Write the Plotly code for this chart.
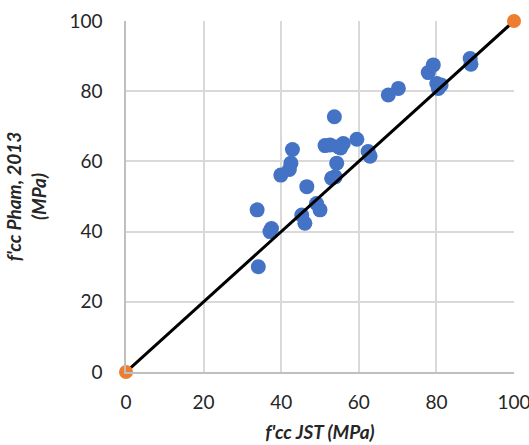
import plotly.graph_objects as go

jst = [88.7, 88.9, 79.2, 77.9, 80.1, 80.5, 81.2, 67.6, 70.2, 53.7, 59.5, 56.0, 51.3, 52.6, 54.7,
       55.3, 62.4, 62.9, 42.9, 42.5, 42.1, 39.9, 54.3, 53.0, 53.9, 46.6, 49.1, 50.0, 33.8, 45.3,
       46.1, 37.5, 37.1, 34.1]
pham = [89.3, 87.7, 87.5, 85.3, 82.2, 80.8, 81.8, 78.9, 80.8, 72.7, 66.3, 65.1, 64.5, 64.7, 64.2,
        63.8, 62.8, 61.5, 63.4, 59.5, 57.7, 56.1, 59.5, 55.2, 55.6, 52.8, 48.0, 46.2, 46.2, 44.7,
        42.4, 40.9, 40.0, 30.0]
ref_x = [0, 100]
ref_y = [0, 100]
ticks = [0, 20, 40, 60, 80, 100]

fig = go.Figure()
fig.add_trace(go.Scatter(x=jst, y=pham, mode="markers",
                         marker=dict(color="#4472C4", size=15), cliponaxis=False))
fig.add_trace(go.Scatter(x=ref_x, y=ref_y, mode="lines",
                         line=dict(color="black", width=3), cliponaxis=False))
fig.add_trace(go.Scatter(x=ref_x, y=ref_y, mode="markers",
                         marker=dict(color="#ED7D31", size=14), cliponaxis=False))

axis_common = dict(range=[0, 100], tickvals=ticks, showgrid=True, gridcolor="#D9D9D9",
                   gridwidth=1.5, zeroline=False, showline=True, linecolor="#BFBFBF",
                   linewidth=1.5, ticks="", automargin=False, ticklabeloverflow="allow",
                   tickfont=dict(size=19, color="#262626", family="Lato"))

fig.update_xaxes(**axis_common, ticklabelstandoff=12,
                 title=dict(text="<b><i>f'cc JST (MPa)</i></b>", standoff=14,
                            font=dict(size=19, color="#262626", family="Lato")))
fig.update_yaxes(**axis_common, ticklabelstandoff=18,
                 title=dict(text="<b><i>f'cc Pham, 2013<br>(MPa)</i></b>", standoff=18,
                            font=dict(size=19, color="#262626", family="Lato")))

fig.update_layout(width=529, height=445, showlegend=False,
                  plot_bgcolor="white", paper_bgcolor="white",
                  margin=dict(l=126, r=15, t=21, b=73))
fig.write_html("out.html", config={"displayModeBar": False},
               post_script="document.body.style.margin='0';document.body.style.overflow='hidden';")
